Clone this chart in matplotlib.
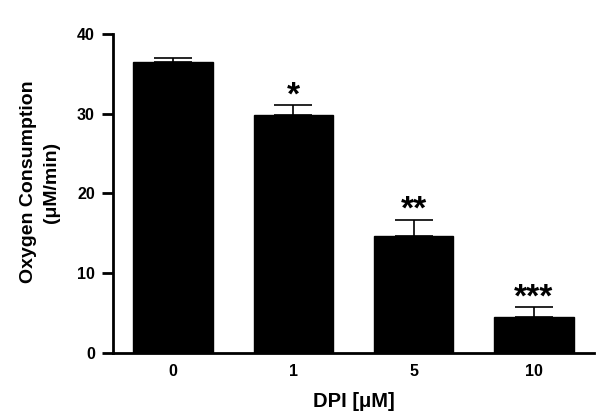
import matplotlib
matplotlib.use('Agg')
import matplotlib.pyplot as plt

plt.rcParams['font.family'] = ['Liberation Sans', 'DejaVu Sans']
plt.rcParams['font.weight'] = 'bold'

# DPI dose vs oxygen consumption
doses = ['0', '1', '5', '10']
means = [36.45, 29.9, 14.7, 4.55]
sems = [0.5, 1.2, 2.0, 1.2]
stars = ['', '*', '**', '***']

fig = plt.figure(figsize=(6.0, 4.18), dpi=100)
ax = fig.add_axes([0.1883, 0.1555, 0.8017, 0.7632])

x = range(len(doses))
ax.bar(x, means, width=0.66, color='black', edgecolor='black', zorder=2)
ax.errorbar(x, means, yerr=[[0]*len(sems), sems], fmt='none', ecolor='black',
            elinewidth=1.2, capsize=14, capthick=1.2, zorder=1)

for i, s in enumerate(stars):
    if s:
        ax.text(i, means[i] + sems[i] + 0.1, s, ha='center', va='baseline',
                fontsize=24, fontweight='bold')

ax.set_xlim(-0.5, 3.5)
ax.set_ylim(0, 40)
ax.set_yticks([0, 10, 20, 30, 40])
ax.set_xticks(list(x))
ax.set_xticklabels(doses)
ax.tick_params(axis='x', length=0, pad=8, labelsize=11.5)
ax.tick_params(axis='y', length=8, width=2, labelsize=11.5, pad=5)
for lbl in ax.get_xticklabels() + ax.get_yticklabels():
    lbl.set_fontweight('bold')

ax.spines['top'].set_visible(False)
ax.spines['right'].set_visible(False)
ax.spines['left'].set_linewidth(2)
ax.spines['bottom'].set_linewidth(2)

ax.set_xlabel('DPI [\u03bcM]', fontsize=14.5, fontweight='bold', labelpad=9)
ax.set_ylabel('Oxygen Consumption\n(\u03bcM/min)', fontsize=14, fontweight='bold',
              linespacing=1.45)
ax.yaxis.set_label_coords(-0.110, 0.536)

plt.savefig('out.png', dpi=100)
